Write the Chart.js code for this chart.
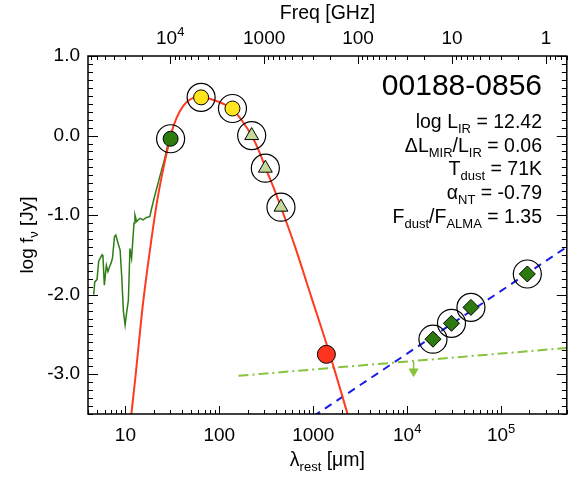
<!DOCTYPE html>
<html>
<head>
<meta charset="utf-8">
<script src="https://cdn.jsdelivr.net/npm/chart.js@4.4.1/dist/chart.umd.min.js"></script>
<style>
body { margin: 0; background: #fff; }
canvas { display: block; }
</style>
</head>
<body>
<canvas id="sedChart" width="582" height="477"></canvas>
<script>
// axis ranges (rest wavelength in micron, log flux in Jy)
var lamMin = 4.0, lamMax = 5.0e5;
var fMin = -3.5, fMax = 1.0;
var cGHzMicron = 3e5; // nu[GHz] = c / lambda[um]

// mid-IR spectrum
var specLam = [4.60, 4.72, 4.99, 5.20, 5.64, 5.77, 5.97, 6.27, 6.52, 6.79, 7.06, 7.29, 7.66, 7.91, 8.43, 8.79,
  9.14, 9.53, 9.93, 10.33, 10.76, 11.19, 11.64, 12.36, 12.65, 13.15, 14.29, 15.45, 16.75, 18.2, 18.9, 20.6,
  23.2, 26.2, 28.4, 30.3];
var specF = [-2.00, -1.84, -1.81, -1.58, -1.50, -1.52, -1.88, -1.63, -1.71, -1.65, -1.60, -1.54, -1.27, -1.25, -1.37, -1.44,
  -1.77, -2.21, -2.38, -2.22, -2.07, -1.42, -1.54, -1.10, -1.00, -1.08, -1.04, -1.06, -1.03, -1.02, -0.93, -0.75,
  -0.52, -0.29, -0.10, -0.03];

// dust model curve
var dustLam = [11.4, 12.7, 13.8, 15.0, 16.9, 19.1, 21.6, 24.3, 27.5, 31.0, 35.0, 41.1, 48.3, 57.5, 67.6, 85.1,
  110, 138, 176, 221, 263, 309, 380, 453, 537, 641, 960, 1500, 2400];
var dustF = [-3.57, -3.07, -2.65, -2.23, -1.73, -1.27, -0.85, -0.52, -0.22, 0.04, 0.22, 0.37, 0.45, 0.48, 0.48, 0.45,
  0.40, 0.33, 0.18, 0.0, -0.19, -0.40, -0.66, -0.90, -1.14, -1.40, -2.04, -2.75, -3.56];

// non-thermal power law (dashed) and dash-dot line
var ntLam = [1000, 500000];
var ntF = [-3.53, -1.40];
var ddLam = [160, 500000];
var ddF = [-3.02, -2.67];

// upper limit arrow
var ulLam = [11700];
var ulTop = [-2.84];
var ulHead = [-2.965];

// photometry
var mirLam = [30.3], mirF = [-0.04];
var pacsLam = [64, 138], pacsF = [0.48, 0.34];
var spireLam = [221, 309, 453], spireF = [0.0, -0.41, -0.90];
var almaLam = [1380], almaF = [-2.75];
var radioLam = [18800, 29600, 47700, 190000], radioF = [-2.56, -2.36, -2.16, -1.74];

// tick labels
var lamTicks = [10, 100, 1000, 1e4, 1e5];
var lamTickText = ['10', '100', '1000', '10^4', '10^5'];
var freqTicks = [1e4, 1000, 100, 10, 1];
var freqTickText = ['10^4', '1000', '100', '10', '1'];
var fTicks = [-3, -2, -1, 0, 1];

var titleText = '00188-0856';
var infoLines = [
  [['log L', ''], ['IR', 'b'], [' = 12.42', '']],
  [['\u0394L', ''], ['MIR', 'b'], ['/L', ''], ['IR', 'b'], [' = 0.06', '']],
  [['T', ''], ['dust', 'b'], [' = 71K', '']],
  [['\u03b1', ''], ['NT', 'b'], [' = -0.79', '']],
  [['F', ''], ['dust', 'b'], ['/F', ''], ['ALMA', 'b'], [' = 1.35', '']]
];

var FONT = '"Liberation Sans", Arial, sans-serif';

function xy(xs, ys) {
  return xs.map(function (x, i) { return { x: x, y: ys[i] }; });
}

function richText(ctx, parts, x, y, size, align) {
  var small = Math.round(size * 0.68);
  var w = 0;
  parts.forEach(function (p) {
    ctx.font = (p[1] ? small : size) + 'px ' + FONT;
    w += ctx.measureText(p[0]).width;
  });
  var cx = align === 'right' ? x - w : (align === 'center' ? x - w / 2 : x);
  ctx.textAlign = 'left';
  ctx.textBaseline = 'alphabetic';
  ctx.fillStyle = '#000';
  parts.forEach(function (p) {
    ctx.font = (p[1] ? small : size) + 'px ' + FONT;
    var dy = p[1] === 'b' ? size * 0.28 : (p[1] === 'p' ? -size * 0.42 : 0);
    ctx.fillText(p[0], cx, y + dy);
    cx += ctx.measureText(p[0]).width;
  });
}

function powLabel(s) {
  var k = s.split('^');
  return k.length > 1 ? [[k[0], ''], [k[1], 'p']] : [[s, '']];
}

var axesPlugin = {
  id: 'idlAxes',
  afterDraw: function (chart) {
    var ctx = chart.ctx, a = chart.chartArea;
    var sx = chart.scales.x, sx2 = chart.scales.x2, sy = chart.scales.y;
    ctx.save();
    ctx.strokeStyle = '#000';
    ctx.lineWidth = 1;
    ctx.beginPath();
    // wavelength ticks (bottom)
    for (var d = 0; d <= 5; d++) {
      for (var m = 1; m <= 9; m++) {
        var v = m * Math.pow(10, d);
        if (v < lamMin || v > lamMax) continue;
        var px = Math.round(sx.getPixelForValue(v)) + 0.5;
        var len = m === 1 ? 8 : 4;
        ctx.moveTo(px, a.bottom); ctx.lineTo(px, a.bottom - len);
      }
    }
    // frequency ticks (top)
    for (d = -1; d <= 4; d++) {
      for (m = 1; m <= 9; m++) {
        v = m * Math.pow(10, d);
        if (v < cGHzMicron / lamMax || v > cGHzMicron / lamMin) continue;
        px = Math.round(sx2.getPixelForValue(v)) + 0.5;
        len = m === 1 ? 8 : 4;
        ctx.moveTo(px, a.top); ctx.lineTo(px, a.top + len);
      }
    }
    // flux ticks (left and right)
    for (var i = 0; i <= 45; i++) {
      var fv = fMin + i * 0.1;
      var py = Math.round(sy.getPixelForValue(fv)) + 0.5;
      len = Math.abs(fv - Math.round(fv)) < 1e-6 ? 10 : 5;
      ctx.moveTo(a.left, py); ctx.lineTo(a.left + len, py);
      ctx.moveTo(a.right, py); ctx.lineTo(a.right - len, py);
    }
    ctx.stroke();
    ctx.lineWidth = 1.5;
    ctx.strokeRect(a.left, a.top, a.right - a.left, a.bottom - a.top);

    // tick labels
    lamTicks.forEach(function (t, k) {
      richText(ctx, powLabel(lamTickText[k]), sx.getPixelForValue(t), 441, 19, 'center');
    });
    freqTicks.forEach(function (t, k) {
      richText(ctx, powLabel(freqTickText[k]), sx2.getPixelForValue(t), 44, 19, 'center');
    });

    // axis titles
    var midX = (a.left + a.right) / 2;
    richText(ctx, [['Freq [GHz]', '']], midX, 19, 19.5, 'center');
    richText(ctx, [['\u03bb', ''], ['rest', 'b'], [' [\u03bcm]', '']], midX, 466, 19.5, 'center');
    ctx.save();
    ctx.translate(33, (a.top + a.bottom) / 2);
    ctx.rotate(-Math.PI / 2);
    richText(ctx, [['log f', ''], ['\u03bd', 'b'], [' [Jy]', '']], 0, 0, 19, 'center');
    ctx.restore();

    // annotation block
    richText(ctx, [[titleText, '']], 542, 95, 30, 'right');
    var base = [128, 152, 175, 199, 223];
    infoLines.forEach(function (ln, k) {
      richText(ctx, ln, 542, base[k], 19.5, 'right');
    });
    ctx.restore();
  }
};

var dkGreen = 'rgb(45,122,14)';
var ltGreen = 'rgb(135,195,60)';
var ringLam = mirLam.concat(pacsLam, spireLam, radioLam);
var ringF = mirF.concat(pacsF, spireF, radioF);

new Chart('sedChart', {
  type: 'scatter',
  data: {
    datasets: [
      { data: xy(mirLam, mirF), pointStyle: 'circle', pointRadius: 7.5, pointBackgroundColor: dkGreen, pointBorderColor: '#000', pointBorderWidth: 1 },
      { data: xy(pacsLam, pacsF), pointStyle: 'circle', pointRadius: 7.5, pointBackgroundColor: 'rgb(255,228,30)', pointBorderColor: '#000', pointBorderWidth: 1 },
      { data: xy(spireLam, spireF), pointStyle: 'triangle', pointRadius: 8, pointBackgroundColor: 'rgb(197,218,152)', pointBorderColor: '#000', pointBorderWidth: 1 },
      { data: xy(almaLam, almaF), pointStyle: 'circle', pointRadius: 9, pointBackgroundColor: 'rgb(255,52,30)', pointBorderColor: '#000', pointBorderWidth: 1 },
      { data: xy(radioLam, radioF), pointStyle: 'rectRot', pointRadius: 8, pointBackgroundColor: dkGreen, pointBorderColor: '#000', pointBorderWidth: 1 },
      { data: xy(ringLam, ringF), pointStyle: 'circle', pointRadius: 14, pointBackgroundColor: 'rgba(0,0,0,0)', pointBorderColor: '#000', pointBorderWidth: 1.2 },
      { data: xy(ulLam, ulHead), pointStyle: 'triangle', pointRotation: 180, pointRadius: 5, pointBackgroundColor: ltGreen, pointBorderColor: ltGreen, pointBorderWidth: 1 },
      { data: xy(ulLam.concat(ulLam), ulTop.concat(ulHead)), showLine: true, pointRadius: 0, borderColor: ltGreen, borderWidth: 1.5 },
      { data: xy(dustLam, dustF), showLine: true, pointRadius: 0, borderColor: 'rgb(255,58,30)', borderWidth: 2, cubicInterpolationMode: 'monotone', clip: 0 },
      { data: xy(ntLam, ntF), showLine: true, pointRadius: 0, borderColor: 'rgb(25,30,230)', borderWidth: 2, borderDash: [8, 6], clip: 0 },
      { data: xy(ddLam, ddF), showLine: true, pointRadius: 0, borderColor: ltGreen, borderWidth: 2, borderDash: [10, 4, 2, 4], clip: 0 },
      { data: xy(specLam, specF), showLine: true, pointRadius: 0, borderColor: 'rgb(45,125,20)', borderWidth: 1.5, clip: 0 }
    ]
  },
  options: {
    responsive: false,
    animation: false,
    devicePixelRatio: 1,
    layout: { padding: 0 },
    plugins: { legend: { display: false }, tooltip: { enabled: false } },
    scales: {
      x: {
        type: 'logarithmic', position: 'bottom', min: lamMin, max: lamMax,
        grid: { display: false, drawTicks: false }, border: { display: false }, ticks: { display: false },
        afterFit: function (s) { s.height = 63; }
      },
      x2: {
        type: 'logarithmic', position: 'top', reverse: true,
        min: cGHzMicron / lamMax, max: cGHzMicron / lamMin,
        grid: { display: false, drawTicks: false }, border: { display: false }, ticks: { display: false },
        afterFit: function (s) { s.height = 56; }
      },
      y: {
        type: 'linear', position: 'left', min: fMin, max: fMax,
        afterBuildTicks: function (s) { s.ticks = fTicks.map(function (v) { return { value: v }; }); },
        ticks: { callback: function (v) { return Number(v).toFixed(1); }, font: { family: FONT, size: 19 }, color: '#000', padding: 8 },
        grid: { display: false, drawTicks: false }, border: { display: false },
        afterFit: function (s) { s.width = 88; }
      },
      y2: {
        type: 'linear', position: 'right', min: fMin, max: fMax,
        grid: { display: false, drawTicks: false }, border: { display: false }, ticks: { display: false },
        afterFit: function (s) { s.width = 10; }
      }
    }
  },
  plugins: [axesPlugin]
});
</script>
</body>
</html>
